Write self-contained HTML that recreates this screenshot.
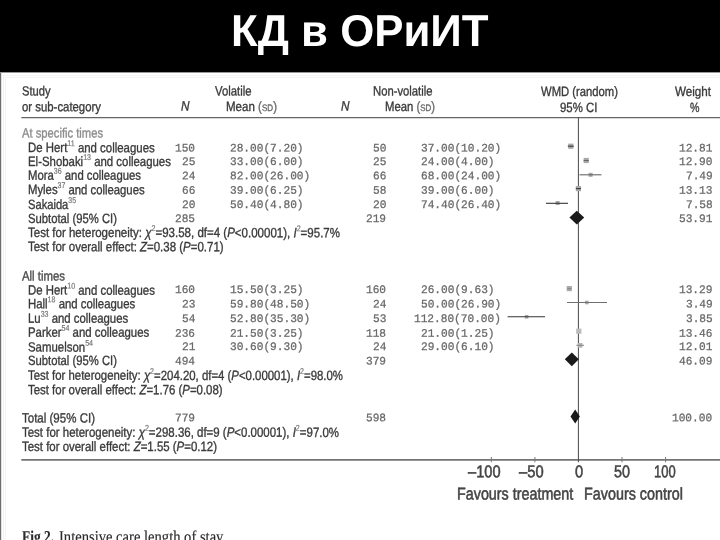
<!DOCTYPE html>
<html lang="ru">
<head>
<meta charset="utf-8">
<title>КД в ОРиИТ</title>
<style>
html,body{margin:0;padding:0;}
body{width:720px;height:540px;overflow:hidden;background:#fff;font-family:"Liberation Sans",sans-serif;}
#slide{position:relative;width:720px;height:540px;overflow:hidden;background:#fff;}
#hdr{position:absolute;left:0;top:0;width:720px;height:72px;background:#000;border-bottom:1px solid #999;}
#in1{position:absolute;left:3px;top:75px;width:717px;height:465px;border-left:1px solid #f0f0f3;border-top:1px solid #f3f3f3;}
#in2{position:absolute;left:5px;top:77px;width:715px;height:463px;border-left:1px solid #f4f4f6;border-top:1px solid #f5f5f5;}
#lb{position:absolute;left:0;top:73px;width:1px;height:468px;background:#6c6c70;border-right:1px solid #e2e2e4;}
.t{position:absolute;white-space:nowrap;line-height:normal;-webkit-text-stroke:0.35px currentColor;font-family:"Liberation Sans",sans-serif;}
.m{font-family:"Liberation Mono",monospace;-webkit-text-stroke:0.25px currentColor;}
.r{font-family:"Liberation Serif",serif;-webkit-text-stroke:0.15px currentColor;}
.t sup{font-size:62%;vertical-align:baseline;position:relative;top:-0.74em;line-height:0;color:#777;-webkit-text-stroke:0.2px currentColor;}
#txt{position:absolute;left:0;top:0;width:720px;height:540px;filter:blur(0.35px);}
.sc{font-size:70%;}
.bm{display:inline-block;width:0;height:0;vertical-align:baseline;}
svg{position:absolute;left:0;top:0;}
</style>
</head>
<body>
<div id="slide">
<div id="hdr"></div>
<div id="lb"></div><div id="in1"></div><div id="in2"></div>
<div id="txt">
<svg width="720" height="540" viewBox="0 0 720 540">
<line x1="21.3" y1="117.6" x2="720" y2="117.6" stroke="#666" stroke-width="1.2"/>
<line x1="21.3" y1="459.9" x2="720" y2="459.9" stroke="#747474" stroke-width="1.6"/>
<line x1="578.4" y1="117.5" x2="578.4" y2="462.3" stroke="#484848" stroke-width="1"/>
<g stroke="#777" stroke-width="1">
<line x1="491.3" y1="457" x2="491.3" y2="462.3"/>
<line x1="534.9" y1="457" x2="534.9" y2="462.3"/>
<line x1="622" y1="457" x2="622" y2="462.3"/>
<line x1="665.6" y1="457" x2="665.6" y2="462.3"/>
</g>
<!-- group 1 -->
<g fill="#a8a8a8">
<rect x="568.2" y="143.6" width="5.2" height="5.2"/>
<rect x="583.6" y="157.9" width="5.2" height="5.2"/>
<rect x="588.6" y="172.8" width="4" height="4"/>
<rect x="575.8" y="186" width="5.2" height="5.2"/>
<rect x="555.6" y="201" width="4" height="4"/>
</g>
<g stroke="#3a3a3a" stroke-width="1.1">
<line x1="567.8" y1="146.2" x2="573.8" y2="146.2"/>
<line x1="583.6" y1="160.5" x2="588.8" y2="160.5" stroke="#666"/>
<line x1="579.5" y1="174.8" x2="601.5" y2="174.8" stroke="#666"/>
<line x1="575.8" y1="188.6" x2="581" y2="188.6"/>
<line x1="546" y1="203.3" x2="568" y2="203.3" stroke="#333"/>
</g>
<polygon points="569.4,217.6 576.8,210.8 584.2,217.6 576.8,224.4" fill="#1a1a1a"/>
<!-- group 2 -->
<g fill="#aaa">
<rect x="566.7" y="286" width="5.2" height="5.2"/>
<rect x="585" y="300.7" width="3.6" height="3.6"/>
<rect x="524.8" y="315" width="3.6" height="3.6"/>
<rect x="576.2" y="328.6" width="5.2" height="5.2" fill="#bbb"/>
<rect x="577.8" y="343" width="4.6" height="4.6" fill="#b4b4b4"/>
</g>
<g stroke="#555" stroke-width="1.1">
<line x1="567.2" y1="288.6" x2="571.4" y2="288.6" stroke="#888"/>
<line x1="567" y1="302.5" x2="607" y2="302.5" stroke="#707070"/>
<line x1="507.6" y1="316.8" x2="545" y2="316.8" stroke="#333"/>
<line x1="576.4" y1="345.3" x2="584" y2="345.3" stroke="#888"/>
</g>
<polygon points="564.8,359.3 571.8,352.4 578.8,359.3 571.8,366.2" fill="#1a1a1a"/>
<polygon points="570.5,416.5 575.2,409.6 579.9,416.5 575.2,423.4" fill="#1a1a1a"/>
</svg>

<span class="t" style="left:230.55px;transform-origin:0 40.00px;top:5px;font-size:44.6px;color:#fff;font-weight:bold;transform:translate(0,0.90px) scale(0.9818,1.0000) rotate(0.03deg);"><span style="-webkit-text-stroke:0">КД в ОРиИТ</span></span>
<span class="t" style="left:22.00px;transform-origin:0 12.00px;top:83px;font-size:13.4px;color:#3a3a3a;transform:translate(0,0.40px) scale(0.8321,1.0000) rotate(0.03deg);">Study</span>
<span class="t" style="left:22.00px;transform-origin:0 12.00px;top:99px;font-size:13.4px;color:#3a3a3a;transform:translate(0,0.20px) scale(0.8490,1.0000) rotate(0.03deg);">or sub-category</span>
<span class="t" style="left:181.00px;transform-origin:0 12.00px;top:98px;font-size:13.4px;color:#3a3a3a;font-style:italic;transform:translate(0,0.50px) scale(0.8788,1.0000) rotate(0.03deg);">N</span>
<span class="t" style="left:214.50px;transform-origin:0 12.00px;top:83px;font-size:13.4px;color:#3a3a3a;transform:translate(0,0.50px) scale(0.8452,1.0000) rotate(0.03deg);">Volatile</span>
<span class="t" style="left:226.00px;transform-origin:0 12.00px;top:99px;font-size:13.4px;color:#3a3a3a;transform:translate(0,0.00px) scale(0.8617,1.0000) rotate(0.03deg);">Mean <span style="color:#6a6a6a">(<span class="sc">SD</span>)</span></span>
<span class="t" style="left:341.00px;transform-origin:0 12.00px;top:98px;font-size:13.4px;color:#3a3a3a;font-style:italic;transform:translate(0,0.50px) scale(0.8788,1.0000) rotate(0.03deg);">N</span>
<span class="t" style="left:372.50px;transform-origin:0 12.00px;top:83px;font-size:13.4px;color:#3a3a3a;transform:translate(0,0.50px) scale(0.8414,1.0000) rotate(0.03deg);">Non-volatile</span>
<span class="t" style="left:384.50px;transform-origin:0 12.00px;top:99px;font-size:13.4px;color:#3a3a3a;transform:translate(0,0.00px) scale(0.8448,1.0000) rotate(0.03deg);">Mean <span style="color:#6a6a6a">(<span class="sc">SD</span>)</span></span>
<span class="t" style="left:540.60px;transform-origin:0 12.00px;top:84px;font-size:13.4px;color:#3a3a3a;transform:translate(0,0.00px) scale(0.8414,1.0000) rotate(0.03deg);">WMD (random)</span>
<span class="t" style="left:559.60px;transform-origin:0 12.00px;top:100px;font-size:13.4px;color:#3a3a3a;transform:translate(0,0.00px) scale(0.8515,1.0000) rotate(0.03deg);">95% CI</span>
<span class="t" style="left:675.00px;transform-origin:0 12.00px;top:84px;font-size:13.4px;color:#3a3a3a;transform:translate(0,0.00px) scale(0.8688,1.0000) rotate(0.03deg);">Weight</span>
<span class="t" style="left:689.50px;transform-origin:0 12.00px;top:100px;font-size:13.4px;color:#3a3a3a;transform:translate(0,0.00px) scale(0.7969,1.0000) rotate(0.03deg);">%</span>
<span class="t" style="left:22.00px;transform-origin:0 12.00px;top:125px;font-size:13.4px;color:#8c8c8c;transform:translate(0,0.50px) scale(0.8372,1.0000) rotate(0.03deg);">At specific times</span>
<span class="t" style="left:28.00px;transform-origin:0 12.00px;top:140px;font-size:13.4px;color:#3a3a3a;transform:translate(0,0.10px) scale(0.8528,1.0000) rotate(0.03deg);">De Hert<sup>11</sup> and colleagues</span>
<span class="t" style="left:28.00px;transform-origin:0 12.00px;top:154px;font-size:13.4px;color:#3a3a3a;transform:translate(0,0.00px) scale(0.8515,1.0000) rotate(0.03deg);">El-Shobaki<sup>13</sup> and colleagues</span>
<span class="t" style="left:28.00px;transform-origin:0 12.00px;top:167px;font-size:13.4px;color:#3a3a3a;transform:translate(0,0.70px) scale(0.8460,1.0000) rotate(0.03deg);">Mora<sup>36</sup> and colleagues</span>
<span class="t" style="left:28.00px;transform-origin:0 12.00px;top:182px;font-size:13.4px;color:#3a3a3a;transform:translate(0,0.10px) scale(0.8448,1.0000) rotate(0.03deg);">Myles<sup>37</sup> and colleagues</span>
<span class="t" style="left:28.00px;transform-origin:0 12.00px;top:196px;font-size:13.4px;color:#3a3a3a;transform:translate(0,0.90px) scale(0.8327,1.0000) rotate(0.03deg);">Sakaida<sup>35</sup></span>
<span class="t" style="left:28.00px;transform-origin:0 12.00px;top:211px;font-size:13.4px;color:#3a3a3a;transform:translate(0,0.00px) scale(0.8421,1.0000) rotate(0.03deg);">Subtotal (95% CI)</span>
<span class="t" style="left:28.00px;transform-origin:0 12.00px;top:225px;font-size:13.4px;color:#3a3a3a;transform:translate(0,0.00px) scale(0.8601,1.0000) rotate(0.03deg);">Test for heterogeneity: <i>&chi;</i><sup>2</sup>=93.58, df=4 (<i>P</i>&lt;0.00001), <i>I</i><sup>2</sup>=95.7%</span>
<span class="t" style="left:28.00px;transform-origin:0 12.00px;top:239px;font-size:13.4px;color:#3a3a3a;transform:translate(0,0.10px) scale(0.8568,1.0000) rotate(0.03deg);">Test for overall effect: <i>Z</i>=0.38 (<i>P</i>=0.71)</span>
<span class="t" style="left:22.00px;transform-origin:0 12.00px;top:268px;font-size:13.4px;color:#4a4a4a;transform:translate(0,0.50px) scale(0.8496,1.0000) rotate(0.03deg);">All times</span>
<span class="t" style="left:28.00px;transform-origin:0 12.00px;top:282px;font-size:13.4px;color:#3a3a3a;transform:translate(0,0.60px) scale(0.8506,1.0000) rotate(0.03deg);">De Hert<sup>10</sup> and colleagues</span>
<span class="t" style="left:28.00px;transform-origin:0 12.00px;top:296px;font-size:13.4px;color:#3a3a3a;transform:translate(0,0.30px) scale(0.8500,1.0000) rotate(0.03deg);">Hall<sup>18</sup> and colleagues</span>
<span class="t" style="left:28.00px;transform-origin:0 12.00px;top:310px;font-size:13.4px;color:#3a3a3a;transform:translate(0,0.70px) scale(0.8495,1.0000) rotate(0.03deg);">Lu<sup>33</sup> and colleagues</span>
<span class="t" style="left:28.00px;transform-origin:0 12.00px;top:324px;font-size:13.4px;color:#3a3a3a;transform:translate(0,0.80px) scale(0.8505,1.0000) rotate(0.03deg);">Parker<sup>54</sup> and colleagues</span>
<span class="t" style="left:28.00px;transform-origin:0 12.00px;top:339px;font-size:13.4px;color:#3a3a3a;transform:translate(0,0.60px) scale(0.8526,1.0000) rotate(0.03deg);">Samuelson<sup>54</sup></span>
<span class="t" style="left:28.00px;transform-origin:0 12.00px;top:353px;font-size:13.4px;color:#3a3a3a;transform:translate(0,0.00px) scale(0.8421,1.0000) rotate(0.03deg);">Subtotal (95% CI)</span>
<span class="t" style="left:28.00px;transform-origin:0 12.00px;top:367px;font-size:13.4px;color:#3a3a3a;transform:translate(0,0.80px) scale(0.8508,1.0000) rotate(0.03deg);">Test for heterogeneity: <i>&chi;</i><sup>2</sup>=204.20, df=4 (<i>P</i>&lt;0.00001), <i>I</i><sup>2</sup>=98.0%</span>
<span class="t" style="left:28.00px;transform-origin:0 12.00px;top:382px;font-size:13.4px;color:#3a3a3a;transform:translate(0,0.20px) scale(0.8525,1.0000) rotate(0.03deg);">Test for overall effect: <i>Z</i>=1.76 (<i>P</i>=0.08)</span>
<span class="t" style="left:22.00px;transform-origin:0 12.00px;top:410px;font-size:13.4px;color:#3a3a3a;transform:translate(0,0.50px) scale(0.8604,1.0000) rotate(0.03deg);">Total (95% CI)</span>
<span class="t" style="left:22.00px;transform-origin:0 12.00px;top:424px;font-size:13.4px;color:#3a3a3a;transform:translate(0,0.70px) scale(0.8563,1.0000) rotate(0.03deg);">Test for heterogeneity: <i>&chi;</i><sup>2</sup>=298.36, df=9 (<i>P</i>&lt;0.00001), <i>I</i><sup>2</sup>=97.0%</span>
<span class="t" style="left:22.00px;transform-origin:0 12.00px;top:439px;font-size:13.4px;color:#3a3a3a;transform:translate(0,0.00px) scale(0.8542,1.0000) rotate(0.03deg);">Test for overall effect: <i>Z</i>=1.55 (<i>P</i>=0.12)</span>
<span class="t m" style="right:524.50px;transform-origin:100% 9.00px;top:142px;font-size:11.15px;color:#686868;transform:translate(0,0.50px) scale(1.0000,1.0300) rotate(0.03deg);">150</span>
<span class="t m" style="left:229.80px;transform-origin:0 9.00px;top:142px;font-size:11.15px;color:#686868;transform:translate(0,0.50px) scale(1.0000,1.0300) rotate(0.03deg);">28.00(7.20)</span>
<span class="t m" style="right:333.50px;transform-origin:100% 9.00px;top:142px;font-size:11.15px;color:#686868;transform:translate(0,0.50px) scale(1.0000,1.0300) rotate(0.03deg);">50</span>
<span class="t m" style="left:420.95px;transform-origin:0 9.00px;top:142px;font-size:11.15px;color:#686868;transform:translate(0,0.50px) scale(1.0000,1.0300) rotate(0.03deg);">37.00(10.20)</span>
<span class="t m" style="right:7.40px;transform-origin:100% 9.00px;top:142px;font-size:11.15px;color:#686868;transform:translate(0,0.50px) scale(1.0000,1.0300) rotate(0.03deg);">12.81</span>
<span class="t m" style="right:524.50px;transform-origin:100% 9.00px;top:156px;font-size:11.15px;color:#686868;transform:translate(0,0.00px) scale(1.0000,1.0300) rotate(0.03deg);">25</span>
<span class="t m" style="left:229.80px;transform-origin:0 9.00px;top:156px;font-size:11.15px;color:#686868;transform:translate(0,0.00px) scale(1.0000,1.0300) rotate(0.03deg);">33.00(6.00)</span>
<span class="t m" style="right:333.50px;transform-origin:100% 9.00px;top:156px;font-size:11.15px;color:#686868;transform:translate(0,0.00px) scale(1.0000,1.0300) rotate(0.03deg);">25</span>
<span class="t m" style="left:420.95px;transform-origin:0 9.00px;top:156px;font-size:11.15px;color:#686868;transform:translate(0,0.00px) scale(1.0000,1.0300) rotate(0.03deg);">24.00(4.00)</span>
<span class="t m" style="right:7.40px;transform-origin:100% 9.00px;top:156px;font-size:11.15px;color:#686868;transform:translate(0,0.00px) scale(1.0000,1.0300) rotate(0.03deg);">12.90</span>
<span class="t m" style="right:524.50px;transform-origin:100% 9.00px;top:170px;font-size:11.15px;color:#686868;transform:translate(0,0.20px) scale(1.0000,1.0300) rotate(0.03deg);">24</span>
<span class="t m" style="left:229.80px;transform-origin:0 9.00px;top:170px;font-size:11.15px;color:#686868;transform:translate(0,0.20px) scale(1.0000,1.0300) rotate(0.03deg);">82.00(26.00)</span>
<span class="t m" style="right:333.50px;transform-origin:100% 9.00px;top:170px;font-size:11.15px;color:#686868;transform:translate(0,0.20px) scale(1.0000,1.0300) rotate(0.03deg);">66</span>
<span class="t m" style="left:420.95px;transform-origin:0 9.00px;top:170px;font-size:11.15px;color:#686868;transform:translate(0,0.20px) scale(1.0000,1.0300) rotate(0.03deg);">68.00(24.00)</span>
<span class="t m" style="right:7.40px;transform-origin:100% 9.00px;top:170px;font-size:11.15px;color:#686868;transform:translate(0,0.20px) scale(1.0000,1.0300) rotate(0.03deg);">7.49</span>
<span class="t m" style="right:524.50px;transform-origin:100% 9.00px;top:184px;font-size:11.15px;color:#686868;transform:translate(0,0.80px) scale(1.0000,1.0300) rotate(0.03deg);">66</span>
<span class="t m" style="left:229.80px;transform-origin:0 9.00px;top:184px;font-size:11.15px;color:#686868;transform:translate(0,0.80px) scale(1.0000,1.0300) rotate(0.03deg);">39.00(6.25)</span>
<span class="t m" style="right:333.50px;transform-origin:100% 9.00px;top:184px;font-size:11.15px;color:#686868;transform:translate(0,0.80px) scale(1.0000,1.0300) rotate(0.03deg);">58</span>
<span class="t m" style="left:420.95px;transform-origin:0 9.00px;top:184px;font-size:11.15px;color:#686868;transform:translate(0,0.80px) scale(1.0000,1.0300) rotate(0.03deg);">39.00(6.00)</span>
<span class="t m" style="right:7.40px;transform-origin:100% 9.00px;top:184px;font-size:11.15px;color:#686868;transform:translate(0,0.80px) scale(1.0000,1.0300) rotate(0.03deg);">13.13</span>
<span class="t m" style="right:524.50px;transform-origin:100% 9.00px;top:199px;font-size:11.15px;color:#686868;transform:translate(0,0.00px) scale(1.0000,1.0300) rotate(0.03deg);">20</span>
<span class="t m" style="left:229.80px;transform-origin:0 9.00px;top:199px;font-size:11.15px;color:#686868;transform:translate(0,0.00px) scale(1.0000,1.0300) rotate(0.03deg);">50.40(4.80)</span>
<span class="t m" style="right:333.50px;transform-origin:100% 9.00px;top:199px;font-size:11.15px;color:#686868;transform:translate(0,0.00px) scale(1.0000,1.0300) rotate(0.03deg);">20</span>
<span class="t m" style="left:420.95px;transform-origin:0 9.00px;top:199px;font-size:11.15px;color:#686868;transform:translate(0,0.00px) scale(1.0000,1.0300) rotate(0.03deg);">74.40(26.40)</span>
<span class="t m" style="right:7.40px;transform-origin:100% 9.00px;top:199px;font-size:11.15px;color:#686868;transform:translate(0,0.00px) scale(1.0000,1.0300) rotate(0.03deg);">7.58</span>
<span class="t m" style="right:524.50px;transform-origin:100% 9.00px;top:284px;font-size:11.15px;color:#686868;transform:translate(0,0.00px) scale(1.0000,1.0300) rotate(0.03deg);">160</span>
<span class="t m" style="left:229.80px;transform-origin:0 9.00px;top:284px;font-size:11.15px;color:#686868;transform:translate(0,0.00px) scale(1.0000,1.0300) rotate(0.03deg);">15.50(3.25)</span>
<span class="t m" style="right:333.50px;transform-origin:100% 9.00px;top:284px;font-size:11.15px;color:#686868;transform:translate(0,0.00px) scale(1.0000,1.0300) rotate(0.03deg);">160</span>
<span class="t m" style="left:420.95px;transform-origin:0 9.00px;top:284px;font-size:11.15px;color:#686868;transform:translate(0,0.00px) scale(1.0000,1.0300) rotate(0.03deg);">26.00(9.63)</span>
<span class="t m" style="right:7.40px;transform-origin:100% 9.00px;top:284px;font-size:11.15px;color:#686868;transform:translate(0,0.00px) scale(1.0000,1.0300) rotate(0.03deg);">13.29</span>
<span class="t m" style="right:524.50px;transform-origin:100% 9.00px;top:298px;font-size:11.15px;color:#686868;transform:translate(0,0.40px) scale(1.0000,1.0300) rotate(0.03deg);">23</span>
<span class="t m" style="left:229.80px;transform-origin:0 9.00px;top:298px;font-size:11.15px;color:#686868;transform:translate(0,0.40px) scale(1.0000,1.0300) rotate(0.03deg);">59.80(48.50)</span>
<span class="t m" style="right:333.50px;transform-origin:100% 9.00px;top:298px;font-size:11.15px;color:#686868;transform:translate(0,0.40px) scale(1.0000,1.0300) rotate(0.03deg);">24</span>
<span class="t m" style="left:420.95px;transform-origin:0 9.00px;top:298px;font-size:11.15px;color:#686868;transform:translate(0,0.40px) scale(1.0000,1.0300) rotate(0.03deg);">50.00(26.90)</span>
<span class="t m" style="right:7.40px;transform-origin:100% 9.00px;top:298px;font-size:11.15px;color:#686868;transform:translate(0,0.40px) scale(1.0000,1.0300) rotate(0.03deg);">3.49</span>
<span class="t m" style="right:524.50px;transform-origin:100% 9.00px;top:313px;font-size:11.15px;color:#686868;transform:translate(0,0.00px) scale(1.0000,1.0300) rotate(0.03deg);">54</span>
<span class="t m" style="left:229.80px;transform-origin:0 9.00px;top:313px;font-size:11.15px;color:#686868;transform:translate(0,0.00px) scale(1.0000,1.0300) rotate(0.03deg);">52.80(35.30)</span>
<span class="t m" style="right:333.50px;transform-origin:100% 9.00px;top:313px;font-size:11.15px;color:#686868;transform:translate(0,0.00px) scale(1.0000,1.0300) rotate(0.03deg);">53</span>
<span class="t m" style="left:414.26px;transform-origin:0 9.00px;top:313px;font-size:11.15px;color:#686868;transform:translate(0,0.00px) scale(1.0000,1.0300) rotate(0.03deg);">112.80(70.00)</span>
<span class="t m" style="right:7.40px;transform-origin:100% 9.00px;top:313px;font-size:11.15px;color:#686868;transform:translate(0,0.00px) scale(1.0000,1.0300) rotate(0.03deg);">3.85</span>
<span class="t m" style="right:524.50px;transform-origin:100% 9.00px;top:327px;font-size:11.15px;color:#686868;transform:translate(0,0.70px) scale(1.0000,1.0300) rotate(0.03deg);">236</span>
<span class="t m" style="left:229.80px;transform-origin:0 9.00px;top:327px;font-size:11.15px;color:#686868;transform:translate(0,0.70px) scale(1.0000,1.0300) rotate(0.03deg);">21.50(3.25)</span>
<span class="t m" style="right:333.50px;transform-origin:100% 9.00px;top:327px;font-size:11.15px;color:#686868;transform:translate(0,0.70px) scale(1.0000,1.0300) rotate(0.03deg);">118</span>
<span class="t m" style="left:420.95px;transform-origin:0 9.00px;top:327px;font-size:11.15px;color:#686868;transform:translate(0,0.70px) scale(1.0000,1.0300) rotate(0.03deg);">21.00(1.25)</span>
<span class="t m" style="right:7.40px;transform-origin:100% 9.00px;top:327px;font-size:11.15px;color:#686868;transform:translate(0,0.70px) scale(1.0000,1.0300) rotate(0.03deg);">13.46</span>
<span class="t m" style="right:524.50px;transform-origin:100% 9.00px;top:341px;font-size:11.15px;color:#686868;transform:translate(0,0.00px) scale(1.0000,1.0300) rotate(0.03deg);">21</span>
<span class="t m" style="left:229.80px;transform-origin:0 9.00px;top:341px;font-size:11.15px;color:#686868;transform:translate(0,0.00px) scale(1.0000,1.0300) rotate(0.03deg);">30.60(9.30)</span>
<span class="t m" style="right:333.50px;transform-origin:100% 9.00px;top:341px;font-size:11.15px;color:#686868;transform:translate(0,0.00px) scale(1.0000,1.0300) rotate(0.03deg);">24</span>
<span class="t m" style="left:420.95px;transform-origin:0 9.00px;top:341px;font-size:11.15px;color:#686868;transform:translate(0,0.00px) scale(1.0000,1.0300) rotate(0.03deg);">29.00(6.10)</span>
<span class="t m" style="right:7.40px;transform-origin:100% 9.00px;top:341px;font-size:11.15px;color:#686868;transform:translate(0,0.00px) scale(1.0000,1.0300) rotate(0.03deg);">12.01</span>
<span class="t m" style="right:524.50px;transform-origin:100% 9.00px;top:212px;font-size:11.15px;color:#686868;transform:translate(0,0.90px) scale(1.0000,1.0300) rotate(0.03deg);">285</span>
<span class="t m" style="right:333.50px;transform-origin:100% 9.00px;top:212px;font-size:11.15px;color:#686868;transform:translate(0,0.90px) scale(1.0000,1.0300) rotate(0.03deg);">219</span>
<span class="t m" style="right:7.40px;transform-origin:100% 9.00px;top:212px;font-size:11.15px;color:#686868;transform:translate(0,0.90px) scale(1.0000,1.0300) rotate(0.03deg);">53.91</span>
<span class="t m" style="right:524.50px;transform-origin:100% 9.00px;top:355px;font-size:11.15px;color:#686868;transform:translate(0,0.60px) scale(1.0000,1.0300) rotate(0.03deg);">494</span>
<span class="t m" style="right:333.50px;transform-origin:100% 9.00px;top:355px;font-size:11.15px;color:#686868;transform:translate(0,0.60px) scale(1.0000,1.0300) rotate(0.03deg);">379</span>
<span class="t m" style="right:7.40px;transform-origin:100% 9.00px;top:355px;font-size:11.15px;color:#686868;transform:translate(0,0.60px) scale(1.0000,1.0300) rotate(0.03deg);">46.09</span>
<span class="t m" style="right:524.50px;transform-origin:100% 9.00px;top:412px;font-size:11.15px;color:#686868;transform:translate(0,0.25px) scale(1.0000,1.0300) rotate(0.03deg);">779</span>
<span class="t m" style="right:333.50px;transform-origin:100% 9.00px;top:412px;font-size:11.15px;color:#686868;transform:translate(0,0.25px) scale(1.0000,1.0300) rotate(0.03deg);">598</span>
<span class="t m" style="right:7.40px;transform-origin:100% 9.00px;top:412px;font-size:11.15px;color:#686868;transform:translate(0,0.25px) scale(1.0000,1.0300) rotate(0.03deg);">100.00</span>
<span class="t" style="left:468.00px;transform-origin:0 15.00px;top:462px;font-size:17px;color:#444;transform:translate(0,0.30px) scale(0.8618,1.0000) rotate(0.03deg);"><span style="-webkit-text-stroke:0.55px currentColor">&ndash;100</span></span>
<span class="t" style="left:518.70px;transform-origin:0 15.00px;top:462px;font-size:17px;color:#444;transform:translate(0,0.30px) scale(0.8670,1.0000) rotate(0.03deg);"><span style="-webkit-text-stroke:0.55px currentColor">&ndash;50</span></span>
<span class="t" style="left:574.80px;transform-origin:0 15.00px;top:462px;font-size:17px;color:#444;transform:translate(0,0.30px) scale(0.8660,1.0000) rotate(0.03deg);"><span style="-webkit-text-stroke:0.55px currentColor">0</span></span>
<span class="t" style="left:613.60px;transform-origin:0 15.00px;top:462px;font-size:17px;color:#444;transform:translate(0,0.30px) scale(0.8456,1.0000) rotate(0.03deg);"><span style="-webkit-text-stroke:0.55px currentColor">50</span></span>
<span class="t" style="left:653.60px;transform-origin:0 15.00px;top:462px;font-size:17px;color:#444;transform:translate(0,0.30px) scale(0.7648,1.0000) rotate(0.03deg);"><span style="-webkit-text-stroke:0.55px currentColor">100</span></span>
<span class="t" style="left:457.30px;transform-origin:0 15.00px;top:484px;font-size:17px;color:#444;transform:translate(0,0.40px) scale(0.8430,1.0000) rotate(0.03deg);"><span style="-webkit-text-stroke:0.55px currentColor">Favours treatment</span></span>
<span class="t" style="left:584.00px;transform-origin:0 15.00px;top:484px;font-size:17px;color:#444;transform:translate(0,0.40px) scale(0.8441,1.0000) rotate(0.03deg);"><span style="-webkit-text-stroke:0.55px currentColor">Favours control</span></span>
<span class="t r" style="left:21.60px;transform-origin:0 15.00px;top:527px;font-size:16.5px;color:#2a2a2a;font-weight:bold;transform:translate(0,0.00px) scale(0.8117,1.0000) rotate(0.03deg);">Fig 2.</span>
<span class="t r" style="left:59.20px;transform-origin:0 15.00px;top:527px;font-size:16.5px;color:#2a2a2a;transform:translate(0,0.00px) scale(0.8838,1.0000) rotate(0.03deg);">Intensive care length of stay</span>
</div>
</div>
</body>
</html>
